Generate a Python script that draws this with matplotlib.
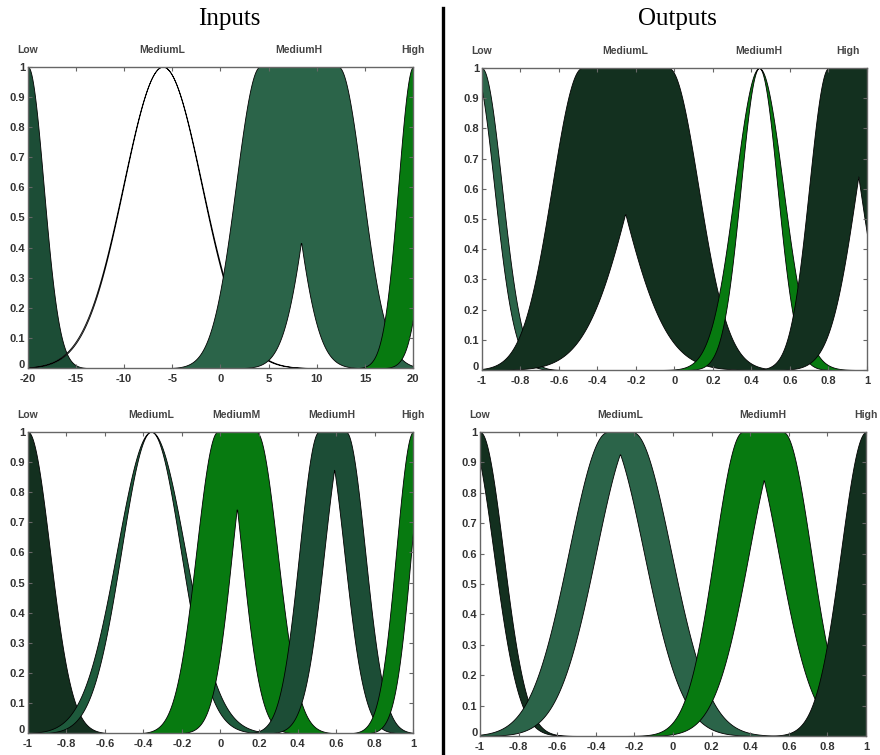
import numpy as np
import matplotlib
matplotlib.use('Agg')
import matplotlib.pyplot as plt
import matplotlib.transforms as mtransforms
from matplotlib.lines import Line2D

plt.rcParams['font.family'] = ['Liberation Sans', 'DejaVu Sans']

DARK = '#13301f'
DEEP = '#1c4d36'
MID = '#2b6449'
BRIGHT = '#077a10'

# interval type-2 gaussian sets: upper = flat top [lo, hi] with sigma,
# lower = min of two gaussians centred at lo / hi (sigma 0 -> no lower MF)

# input 1, range [-20, 20]
in1_labels = ['Low', 'MediumL', 'MediumH', 'High']
in1_up_lo = [-20, -6, 4.1, 20]
in1_up_hi = [-20, -6, 12.2, 20]
in1_up_sig = [1.65, 4.1, 2.5, 1.55]
in1_lw_lo = [-20, -6, 5.07, 20]
in1_lw_hi = [-20, -6, 11.65, 23.07]
in1_lw_sig = [0, 4.04, 2.5, 1.63]

# output 1, range [-1, 1]
out1_labels = ['Low', 'MediumL', 'MediumH', 'High']
out1_up_lo = [-1, -0.48, 0.44, 0.80]
out1_up_hi = [-1, -0.03, 0.44, 1.0]
out1_up_sig = [0.105, 0.155, 0.125, 0.10]
out1_lw_lo = [-1.04, -0.53, 0.44, 0.823]
out1_lw_hi = [-1, 0.02, 0.44, 1.087]
out1_lw_sig = [0.105, 0.24, 0.095, 0.14]

# input 2, range [-1, 1]
in2_labels = ['Low', 'MediumL', 'MediumM', 'MediumH', 'High']
in2_up_lo = [-1, -0.36, -0.015, 0.51, 1]
in2_up_hi = [-1, -0.36, 0.185, 0.65, 1]
in2_up_sig = [0.115, 0.177, 0.11, 0.10, 0.088]
in2_lw_lo = [-1, -0.36, 0.009, 0.536, 1.0]
in2_lw_hi = [-1, -0.36, 0.161, 0.644, 1.075]
in2_lw_sig = [0, 0.154, 0.10, 0.105, 0.085]

# output 2, range [-1, 1]
out2_labels = ['Low', 'MediumL', 'MediumH', 'High']
out2_up_lo = [-1, -0.34, 0.36, 1]
out2_up_hi = [-1, -0.21, 0.57, 1]
out2_up_sig = [0.12, 0.2, 0.145, 0.13]
out2_lw_lo = [-1.06, -0.352, 0.365, 1]
out2_lw_hi = [-1, -0.198, 0.575, 1]
out2_lw_sig = [0.13, 0.2, 0.18, 0]

in1_colors = [DEEP, 'white', MID, BRIGHT]
out1_colors = [MID, DARK, BRIGHT, DARK]
in2_colors = [DARK, '#1e5a3c', BRIGHT, DEEP, BRIGHT]
out2_colors = [DARK, MID, BRIGHT, DARK]


def gauss(x, m, s):
    return np.exp(-(x - m) ** 2 / (2 * s ** 2))


def upper_mf(x, lo, hi, s):
    y = np.ones_like(x)
    y[x < lo] = gauss(x[x < lo], lo, s)
    y[x > hi] = gauss(x[x > hi], hi, s)
    return y


def lower_mf(x, lo, hi, s):
    if s == 0:
        return np.zeros_like(x)
    return np.minimum(gauss(x, lo, s), gauss(x, hi, s))


def tick_text(v):
    v = round(float(v), 1)
    return '0' if v == 0 else f'{v:g}'


def draw_panel(ax, xr, labels, up_lo, up_hi, up_sig, lw_lo, lw_hi, lw_sig,
               colors, xticks):
    x = np.linspace(xr[0], xr[1], 800)
    for i in range(len(labels)):
        up = upper_mf(x, up_lo[i], up_hi[i], up_sig[i])
        lw = np.minimum(lower_mf(x, lw_lo[i], lw_hi[i], lw_sig[i]), up)
        ax.fill_between(x, lw, up, facecolor=colors[i], edgecolor='black',
                        linewidth=0.6)
        cx = min(max((up_lo[i] + up_hi[i]) / 2, xr[0]), xr[1])
        ax.text(cx, 1.055, labels[i], ha='center', va='center', fontsize=7.5,
                color='#444444', fontweight='bold', clip_on=False)
    ax.set_xlim(xr)
    ax.set_ylim(0, 1)
    yt = np.linspace(0, 1, 11)
    ax.set_yticks(yt)
    ax.set_yticklabels([tick_text(v) for v in yt])
    ax.set_xticks(xticks)
    ax.set_xticklabels([tick_text(v) for v in xticks])
    ax.tick_params(direction='in', top=True, right=True, length=3,
                   width=0.8, color='#666666', labelsize=8,
                   labelcolor='#333333')
    ax.tick_params(axis='x', pad=4)
    ax.tick_params(axis='y', pad=2)
    for lab in ax.get_xticklabels() + ax.get_yticklabels():
        lab.set_fontweight('bold')
    # lift the "0" label a little so it clears the first x label
    zero = ax.get_yticklabels()[0]
    zero.set_transform(zero.get_transform() + mtransforms.ScaledTranslation(
        0, 3 / 72, ax.figure.dpi_scale_trans))
    for sp in ax.spines.values():
        sp.set_color('#666666')
        sp.set_linewidth(1.0)


fig = plt.figure(figsize=(8.8, 7.55), dpi=100)
ax1 = fig.add_axes([0.0315, 0.5122, 0.4381, 0.3996])
ax2 = fig.add_axes([0.5474, 0.5099, 0.4378, 0.4])
ax3 = fig.add_axes([0.0315, 0.0285, 0.4381, 0.3997])
ax4 = fig.add_axes([0.5455, 0.0252, 0.4386, 0.4026])

unit_ticks = np.linspace(-1, 1, 11)
draw_panel(ax1, (-20, 20), in1_labels, in1_up_lo, in1_up_hi, in1_up_sig,
           in1_lw_lo, in1_lw_hi, in1_lw_sig, in1_colors, np.arange(-20, 21, 5))
draw_panel(ax2, (-1, 1), out1_labels, out1_up_lo, out1_up_hi, out1_up_sig,
           out1_lw_lo, out1_lw_hi, out1_lw_sig, out1_colors, unit_ticks)
draw_panel(ax3, (-1, 1), in2_labels, in2_up_lo, in2_up_hi, in2_up_sig,
           in2_lw_lo, in2_lw_hi, in2_lw_sig, in2_colors, unit_ticks)
draw_panel(ax4, (-1, 1), out2_labels, out2_up_lo, out2_up_hi, out2_up_sig,
           out2_lw_lo, out2_lw_hi, out2_lw_sig, out2_colors, unit_ticks)

fig.text(229 / 880, 1 - 25 / 755, 'Inputs', family='Liberation Serif',
         fontsize=18, ha='center', va='baseline')
fig.text(677 / 880, 1 - 25 / 755, 'Outputs', family='Liberation Serif',
         fontsize=18, ha='center', va='baseline')
fig.add_artist(Line2D([443 / 880, 443 / 880], [0, 1 - 8 / 755],
                      color='black', linewidth=2.4))

fig.savefig('out.png', dpi=100)
